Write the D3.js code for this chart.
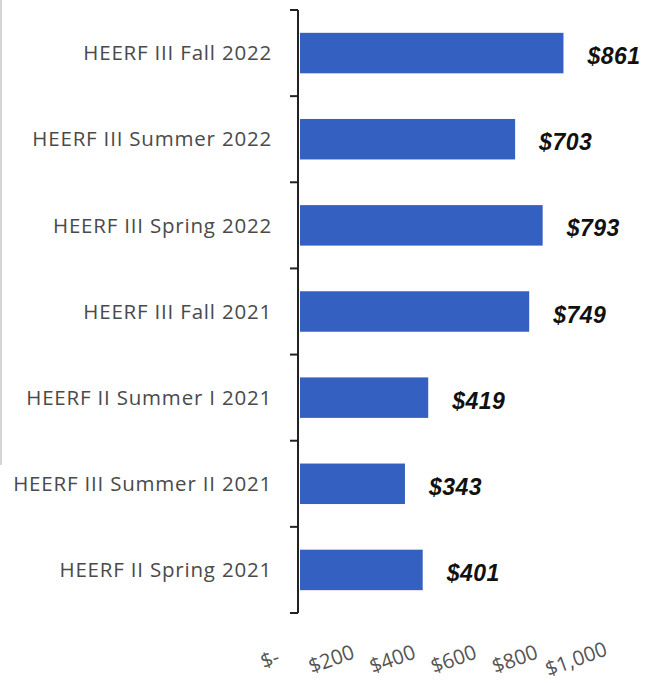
<!DOCTYPE html>
<html><head><meta charset="utf-8">
<script src="https://cdn.jsdelivr.net/npm/d3@7"></script>
<style>body{margin:0;background:#fff}svg{display:block}</style>
</head><body>
<svg id="chart" width="645" height="683"></svg>
<script>
const categories = ["HEERF III Fall 2022","HEERF III Summer 2022","HEERF III Spring 2022","HEERF III Fall 2021","HEERF II Summer I 2021","HEERF III Summer II 2021","HEERF II Spring 2021"];
const values = [861,703,793,749,419,343,401];
const xTicks = [0,200,400,600,800,1000];
const xTickLabels = ["$-","$200","$400","$600","$800","$1,000"];

const svg = d3.select("#chart");
const x = d3.scaleLinear().domain([0,1000]).range([300,606]);
const y = d3.scaleBand().domain(categories).range([10,613]).paddingInner(0.53).paddingOuter(0.265);
const yTicks = d3.scaleBand().domain(categories).range([10,613]);

// faint left border line
svg.append("line").attr("x1",1).attr("x2",1).attr("y1",0).attr("y2",465).attr("stroke","#c8c8c8").attr("stroke-width",1.5);

svg.selectAll("rect.bar").data(values).join("rect").attr("class","bar")
  .attr("x",x(0)).attr("y",(d,i)=>y(categories[i]))
  .attr("width",d=>x(d)-x(0)).attr("height",y.bandwidth())
  .attr("fill","#3461C1");

// y axis line and boundary ticks
const g = svg.append("g");
g.append("line").attr("x1",298).attr("x2",298).attr("y1",yTicks.range()[0]).attr("y2",yTicks.range()[1]).attr("stroke","#222").attr("stroke-width",2);
const bounds = categories.map(c=>yTicks(c)).concat([yTicks.range()[1]]);
g.selectAll("line.tk").data(bounds).join("line").attr("class","tk")
  .attr("x1",290).attr("x2",298).attr("y1",d=>d).attr("y2",d=>d).attr("stroke","#222").attr("stroke-width",2);

// category labels
svg.selectAll("text.cat").data(categories).join("text").attr("class","cat")
  .attr("x",272).attr("y",d=>yTicks(d)+yTicks.bandwidth()/2)
  .attr("dy","0.35em").attr("text-anchor","end")
  .attr("font-family","'Open Sans', Lato, sans-serif").attr("font-size",20.5)
  .attr("letter-spacing","0.8px")
  .attr("fill","#4a4a4a").text(d=>d);

// value labels
svg.selectAll("text.val").data(values).join("text").attr("class","val")
  .attr("x",d=>x(d)+24).attr("y",(d,i)=>y(categories[i])+y.bandwidth()/2+3)
  .attr("dy","0.35em").attr("font-family","'Liberation Sans', Arial, sans-serif")
  .attr("font-size",23).attr("font-weight","bold").attr("font-style","italic")
  .attr("letter-spacing","0.5px")
  .attr("fill","#111").text(d=>"$"+d);

// x tick labels (rotated, no axis line)
svg.selectAll("text.xt").data(xTicks).join("text").attr("class","xt")
  .attr("transform",d=>`translate(${x(d)-30},659) rotate(-20)`)
  .attr("text-anchor","middle").attr("dy","0.35em")
  .attr("font-family","'Open Sans', Lato, sans-serif").attr("font-size",20.5)
  .attr("fill","#555").text((d,i)=>xTickLabels[i]);
</script>
</body></html>
